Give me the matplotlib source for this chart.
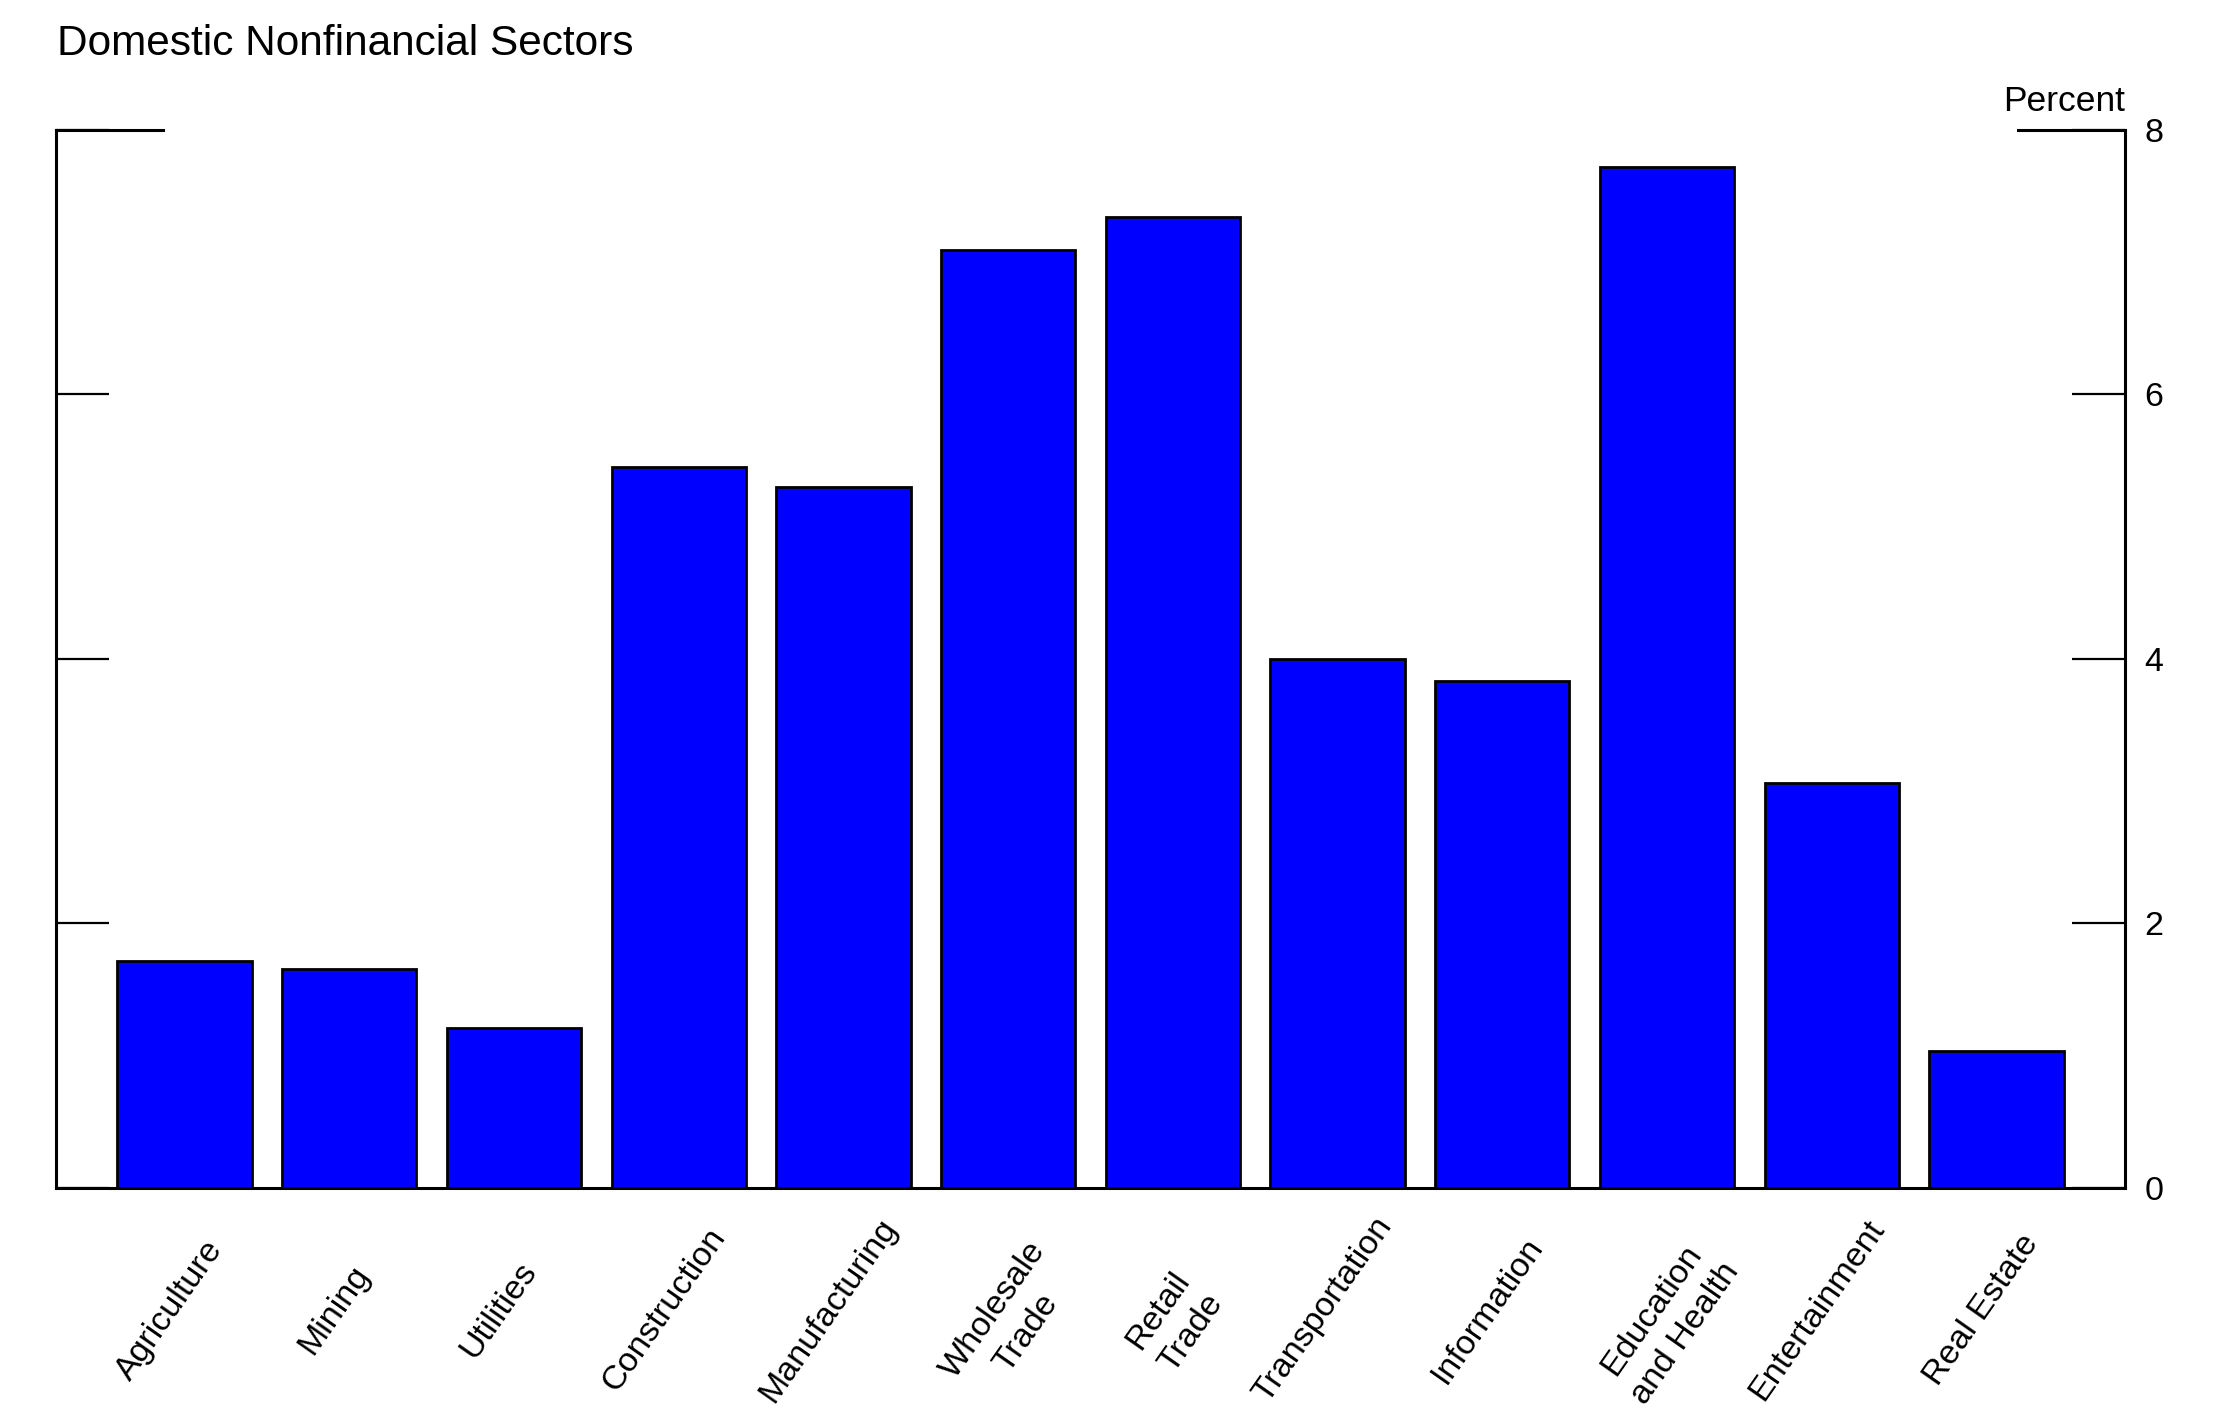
import math
import matplotlib
matplotlib.use("Agg")
import matplotlib.pyplot as plt
from matplotlib.lines import Line2D
import matplotlib.transforms as mtransforms

plt.rcParams['font.family'] = ['Liberation Sans', 'DejaVu Sans']

categories = ["Agriculture", "Mining", "Utilities", "Construction", "Manufacturing",
              "Wholesale\nTrade", "Retail\nTrade", "Transportation", "Information",
              "Education\nand Health", "Entertainment", "Real Estate"]
values = [1.71, 1.65, 1.21, 5.45, 5.30, 7.09, 7.34, 4.00, 3.83, 7.72, 3.06, 1.03]
yticks = [0, 2, 4, 6, 8]
title = "Domestic Nonfinancial Sectors"
unit = "Percent"

W, H = 2238, 1420
fig = plt.figure(figsize=(W / 100, H / 100), dpi=100)
L, R, T, B = 56, 2125, 130, 1187.5
ax = fig.add_axes([L / W, 1 - B / H, (R - L) / W, (B - T) / H])

x = list(range(len(categories)))
ax.bar(x, values, width=0.815, color='#0000ff', edgecolor='black', linewidth=2.0, zorder=2)

ax.set_xlim(-0.78, len(categories) - 1 + 0.78)
ax.set_ylim(0, 8)

for s in ['left', 'right', 'bottom']:
    ax.spines[s].set_linewidth(2.2)
    ax.spines[s].set_color('black')
ax.spines['top'].set_visible(False)

ax.set_xticks([])
ax.set_yticks(yticks)
ax.yaxis.set_ticks_position('both')
ax.tick_params(axis='y', direction='in', length=38, width=1.6,
               left=True, right=True, labelleft=False, labelright=True,
               labelsize=24.5, pad=14)

# top stubs
stub = 75 / 1450
ax.add_line(Line2D([0, stub], [1, 1], transform=ax.transAxes, color='black',
                   lw=2.2, clip_on=False, solid_capstyle='projecting'))
ax.add_line(Line2D([1 - stub, 1], [1, 1], transform=ax.transAxes, color='black',
                   lw=2.2, clip_on=False, solid_capstyle='projecting'))

# category labels: each line centred, first line anchored at the label position
ROT = 55
spacing_pt = 29.5
ddx = spacing_pt * math.sin(math.radians(ROT)) / 72
ddy = -spacing_pt * math.cos(math.radians(ROT)) / 72
base = ax.get_xaxis_transform()
for i, c in enumerate(categories):
    for k, line in enumerate(c.split("\n")):
        tr = base + mtransforms.ScaledTranslation(k * ddx, k * ddy, fig.dpi_scale_trans)
        ax.text(i - 0.09, -0.116, line, transform=tr,
                ha='center', va='center', rotation=ROT, rotation_mode='anchor',
                fontsize=24.5)

fig.text(57 / W, 1 - 44 / H, title, ha='left', va='center', fontsize=30.5)
ax.text(1.0, 1.018, unit, transform=ax.transAxes, ha='right', va='baseline', fontsize=25.5)

fig.savefig("out.png", dpi=100, facecolor='white')
